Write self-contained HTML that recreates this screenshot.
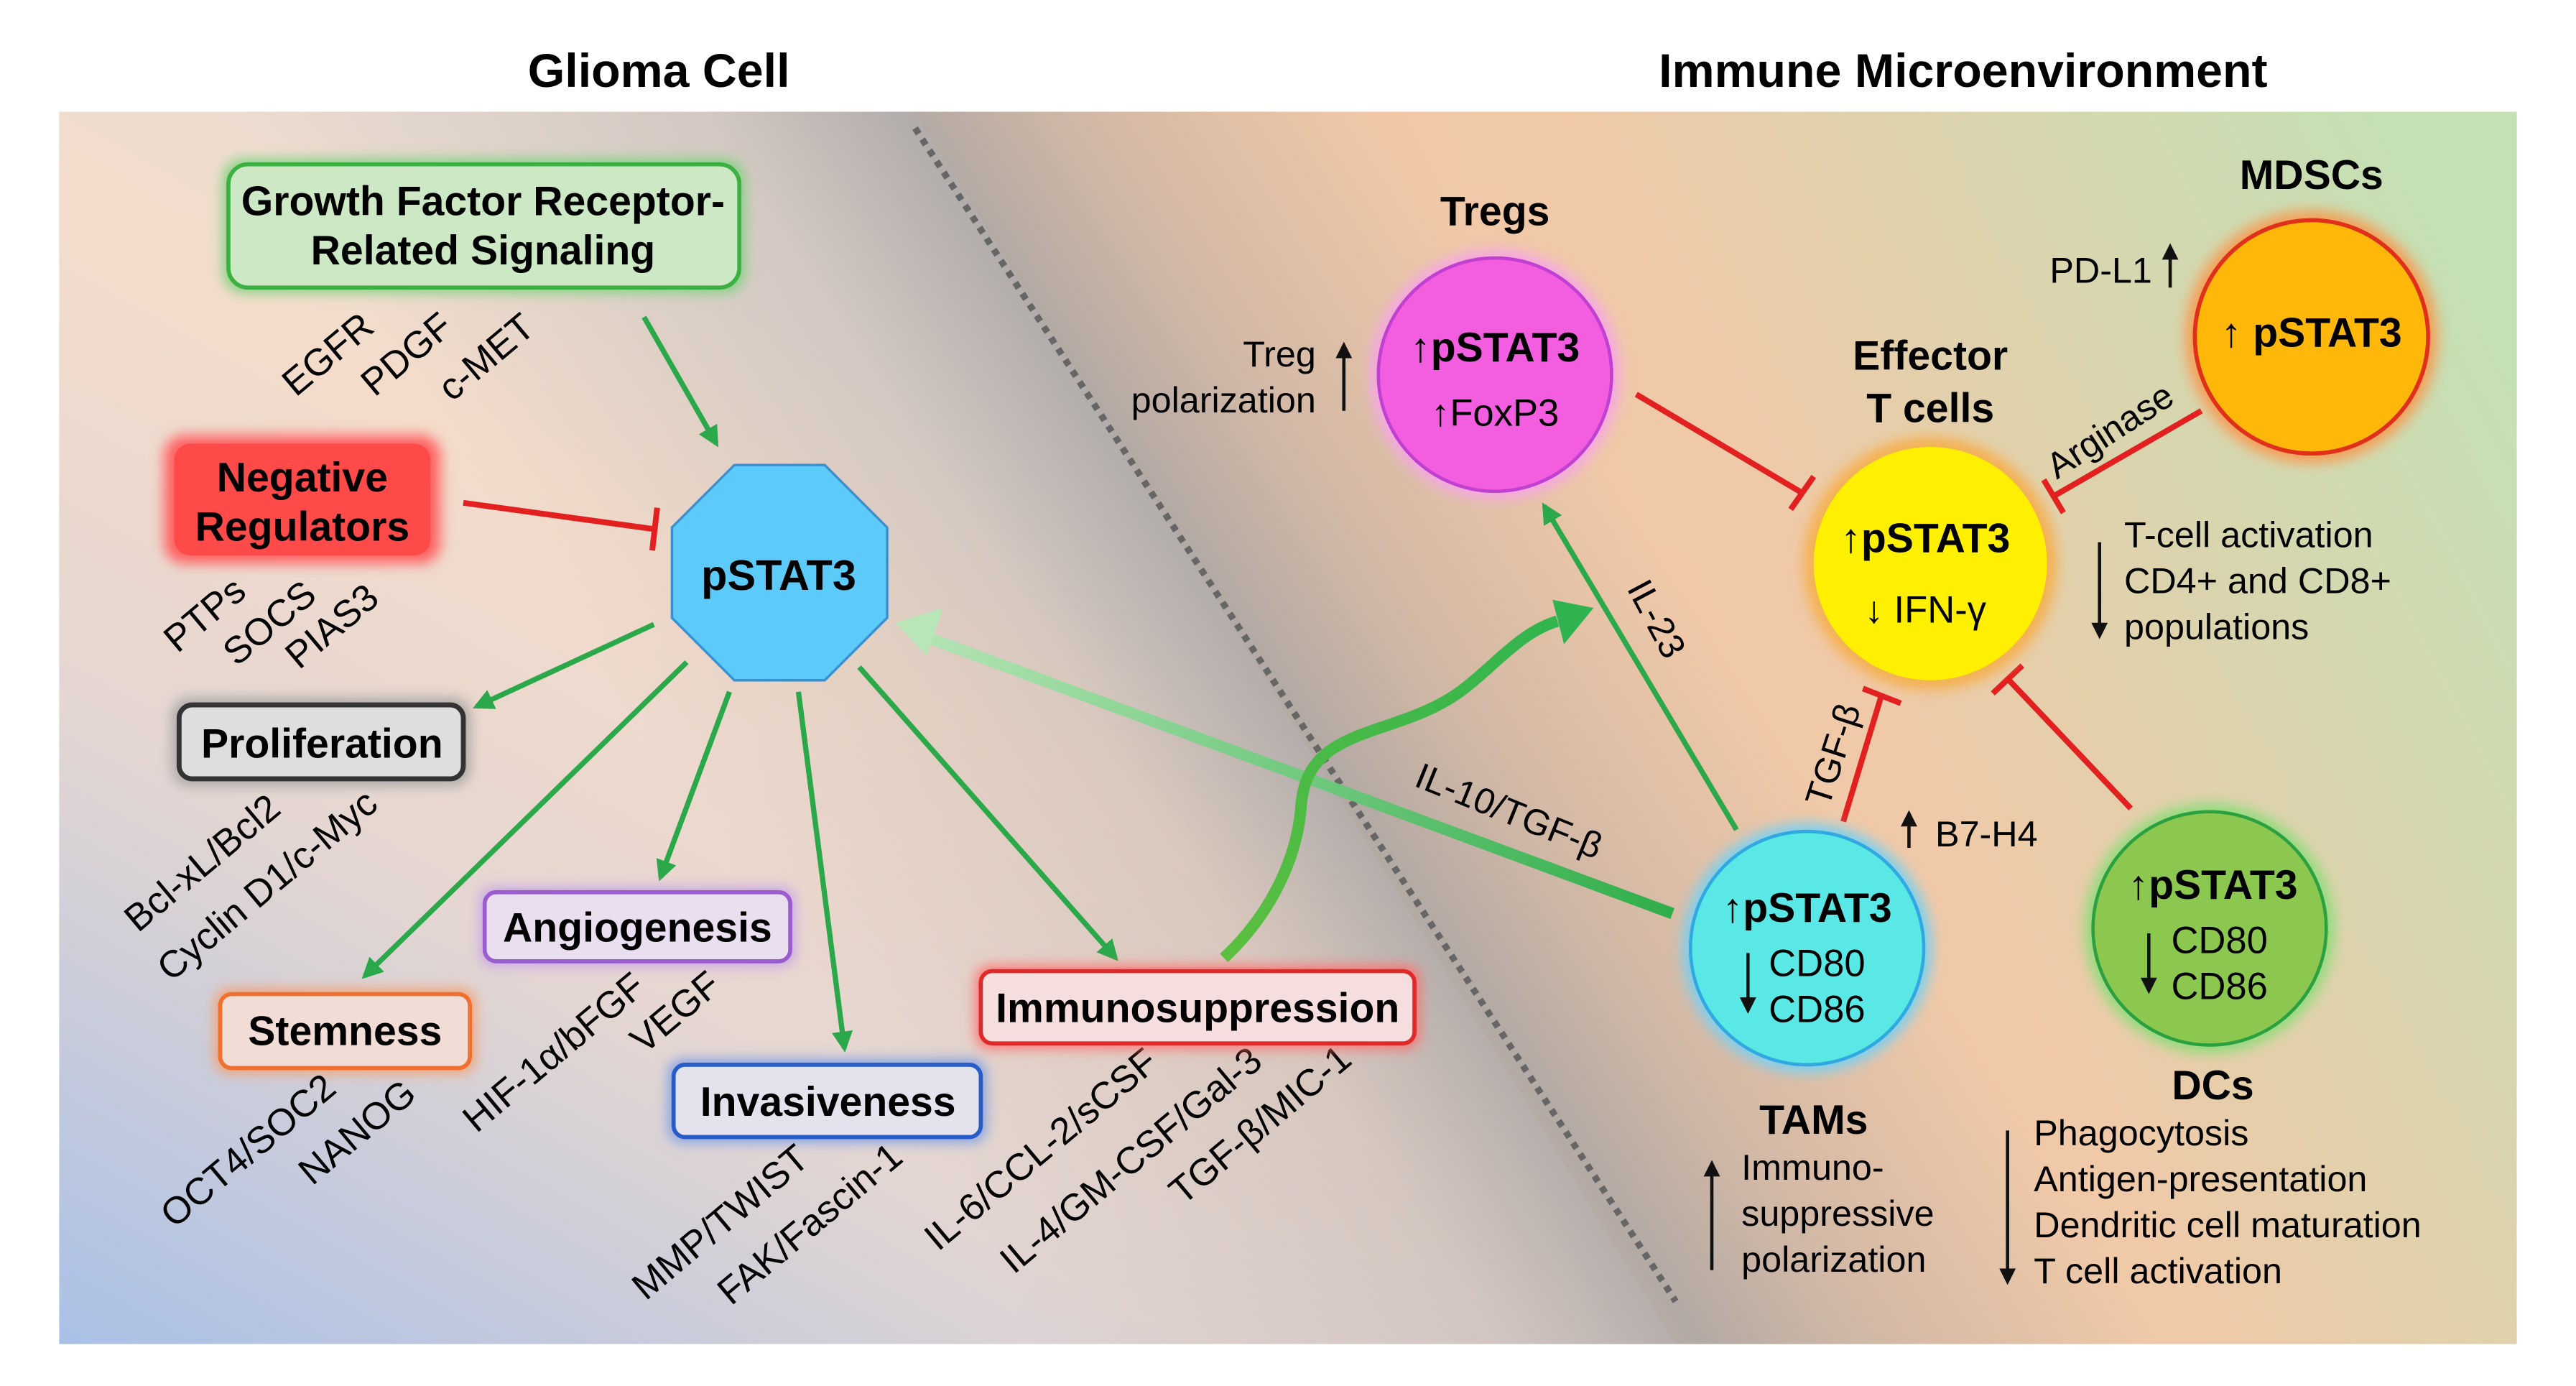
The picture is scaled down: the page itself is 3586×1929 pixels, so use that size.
<!DOCTYPE html>
<html><head><meta charset="utf-8"><style>
html,body{margin:0;padding:0;background:#fff;}
svg{display:block;font-family:"Liberation Sans",Arial,sans-serif;}
</style></head><body>
<svg width="3586" height="1929" viewBox="0 0 1568 843.5" xmlns="http://www.w3.org/2000/svg">
<defs>
<linearGradient id="bgL" x1="0" y1="1" x2="0.55" y2="0.25">
<stop offset="0" stop-color="#a9c0e6"/><stop offset="0.45" stop-color="#e4d6d2"/><stop offset="0.8" stop-color="#f4dccb"/><stop offset="1" stop-color="#eadcd2"/>
</linearGradient>
<linearGradient id="bgR" x1="0" y1="0.6" x2="1" y2="0.2">
<stop offset="0" stop-color="#f2c6a6"/><stop offset="0.55" stop-color="#f0c9a8"/><stop offset="1" stop-color="#c4e0b4"/>
</linearGradient>
<linearGradient id="band" x1="500" y1="620" x2="1076" y2="250" gradientUnits="userSpaceOnUse">
<stop offset="0" stop-color="#a8a4a4" stop-opacity="0"/>
<stop offset="0.35" stop-color="#a8a4a4" stop-opacity="0.35"/>
<stop offset="0.5" stop-color="#a8a4a4" stop-opacity="0.85"/>
<stop offset="0.62" stop-color="#a8a4a4" stop-opacity="0.45"/>
<stop offset="0.85" stop-color="#a8a4a4" stop-opacity="0"/>
</linearGradient>
<linearGradient id="bigArrow" x1="1020" y1="555" x2="545" y2="380" gradientUnits="userSpaceOnUse">
<stop offset="0" stop-color="#2fae4a"/><stop offset="1" stop-color="#b8e6b8"/>
</linearGradient>
<linearGradient id="curvy" x1="745" y1="583" x2="970" y2="370" gradientUnits="userSpaceOnUse">
<stop offset="0" stop-color="#5cbf40"/><stop offset="1" stop-color="#2eb34f"/>
</linearGradient>
<filter id="glow" x="-30%" y="-30%" width="160%" height="160%"><feGaussianBlur stdDeviation="4"/></filter>
<marker id="ga" viewBox="0 0 10 10" refX="8" refY="5" markerWidth="4" markerHeight="4" orient="auto"><path d="M0,0 L10,5 L0,10 z" fill="#2aa84a"/></marker>
</defs>
<rect width="1568" height="843.5" fill="#fff"/>
<polygon points="36,68 557,68 1020,818 36,818" fill="url(#bgL)"/>
<polygon points="557,68 1532,68 1532,818 1020,818" fill="url(#bgR)"/>
<rect x="36" y="68" width="1496" height="750" fill="url(#band)"/>
<line x1="557" y1="78" x2="1020" y2="792" stroke="#666" stroke-width="4" stroke-dasharray="4,4"/>

<text x="401" y="53" font-size="29" font-weight="bold" text-anchor="middle">Glioma Cell</text>
<text x="1195" y="53" font-size="29" font-weight="bold" text-anchor="middle">Immune Microenvironment</text>

<rect x="136" y="97" width="317" height="81" rx="12" fill="#7ed37e" filter="url(#glow)"/>
<rect x="139" y="100" width="311" height="75" rx="12" fill="#cce8c4" stroke="#3cb043" stroke-width="2.5"/>
<text x="294" y="131" font-size="25" font-weight="bold" text-anchor="middle">Growth Factor Receptor-</text>
<text x="294" y="161" font-size="25" font-weight="bold" text-anchor="middle">Related Signaling</text>
<g font-size="23">
<text transform="translate(180,242) rotate(-40)">EGFR</text>
<text transform="translate(228,242) rotate(-40)">PDGF</text>
<text transform="translate(275,245) rotate(-40)">c-MET</text>
</g>

<rect x="100" y="265" width="168" height="78" rx="12" fill="#ff6060" filter="url(#glow)"/>
<rect x="106" y="270" width="156" height="68" rx="10" fill="#ff4a4a"/>
<text x="184" y="299" font-size="25" font-weight="bold" text-anchor="middle">Negative</text>
<text x="184" y="329" font-size="25" font-weight="bold" text-anchor="middle">Regulators</text>
<g font-size="23">
<text transform="translate(108,398) rotate(-40)">PTPs</text>
<text transform="translate(144,406) rotate(-40)">SOCS</text>
<text transform="translate(182,408) rotate(-40)">PIAS3</text>
</g>
<line x1="282" y1="306" x2="398" y2="322" stroke="#e32020" stroke-width="3.5"/>
<line x1="400" y1="309" x2="397" y2="335" stroke="#e32020" stroke-width="3.5"/>

<polygon points="447,283 502,283 540,321 540,376 502,414 447,414 409,376 409,321" fill="#5ccbfa" stroke="#3a8fd0" stroke-width="1.5"/>
<text x="474" y="359" font-size="26" font-weight="bold" text-anchor="middle">pSTAT3</text>

<g stroke="#2aa84a" stroke-width="3.2" fill="none" marker-end="url(#ga)">
<line x1="392" y1="193" x2="436" y2="270"/>
<line x1="398" y1="380" x2="290" y2="430"/>
<line x1="418" y1="403" x2="222" y2="594"/>
<line x1="444" y1="421" x2="402" y2="534"/>
<line x1="486" y1="421" x2="514" y2="638"/>
<line x1="523" y1="406" x2="679" y2="583"/>
<line x1="1057" y1="505" x2="940" y2="308"/>
</g>

<rect x="105" y="425" width="181" height="53" rx="10" fill="#999" filter="url(#glow)" opacity="0.8"/>
<rect x="109" y="429" width="173" height="45" rx="8" fill="#dedede" stroke="#333" stroke-width="3"/>
<text x="196" y="461" font-size="25" font-weight="bold" text-anchor="middle">Proliferation</text>
<g font-size="23">
<text transform="translate(84,568) rotate(-40)">Bcl-xL/Bcl2</text>
<text transform="translate(104,598) rotate(-40)">Cyclin D1/c-Myc</text>
</g>

<rect x="292" y="540" width="192" height="48" rx="8" fill="#c9a6e6" filter="url(#glow)"/>
<rect x="295" y="543" width="186" height="42" rx="7" fill="#eadff0" stroke="#9a5ccf" stroke-width="2.5"/>
<text x="388" y="573" font-size="25" font-weight="bold" text-anchor="middle">Angiogenesis</text>

<rect x="131" y="602" width="158" height="51" rx="8" fill="#f4a070" filter="url(#glow)"/>
<rect x="134" y="605" width="152" height="45" rx="7" fill="#f1dcd6" stroke="#f07030" stroke-width="2.5"/>
<text x="210" y="636" font-size="25" font-weight="bold" text-anchor="middle">Stemness</text>
<g font-size="23">
<text transform="translate(106,748) rotate(-40)">OCT4/SOC2</text>
<text transform="translate(190,722) rotate(-40)">NANOG</text>
<text transform="translate(290,690) rotate(-40)">HIF-1α/bFGF</text>
<text transform="translate(392,642) rotate(-40)">VEGF</text>
</g>

<rect x="407" y="645" width="193" height="50" rx="8" fill="#7a9ee6" filter="url(#glow)"/>
<rect x="410" y="648" width="187" height="44" rx="7" fill="#e4e2ec" stroke="#2a5cc8" stroke-width="2.5"/>
<text x="504" y="679" font-size="25" font-weight="bold" text-anchor="middle">Invasiveness</text>
<g font-size="23">
<text transform="translate(393,792) rotate(-40)">MMP/TWIST</text>
<text transform="translate(445,795) rotate(-40)">FAK/Fascin-1</text>
<text transform="translate(571,762) rotate(-40)">IL-6/CCL-2/sCSF</text>
<text transform="translate(617,776) rotate(-40)">IL-4/GM-CSF/Gal-3</text>
<text transform="translate(720,734) rotate(-40)">TGF-β/MIC-1</text>
</g>

<rect x="594" y="588" width="270" height="50" rx="8" fill="#ff7070" filter="url(#glow)"/>
<rect x="597" y="591" width="264" height="44" rx="7" fill="#f6dede" stroke="#e02a2a" stroke-width="2.5"/>
<text x="729" y="622" font-size="25" font-weight="bold" text-anchor="middle">Immunosuppression</text>

<line x1="1018" y1="556" x2="562" y2="387" stroke="url(#bigArrow)" stroke-width="7"/>
<polygon points="545,379 574,370 564,399" fill="#b8e6b8"/>
<path d="M745,583 C775,555 790,520 792,490 C796,440 850,450 890,420 C910,405 925,385 948,378" stroke="url(#curvy)" stroke-width="7" fill="none"/>
<polygon points="970,370 945,365 952,392" fill="#2eb34f"/>
<text transform="translate(860,478) rotate(22)" font-size="22">IL-10/TGF-β</text>
<text transform="translate(990,358) rotate(62)" font-size="22">IL-23</text>

<g stroke="#e32020" stroke-width="3.5">
<line x1="996" y1="240" x2="1097" y2="300"/><line x1="1090" y1="310" x2="1104" y2="290"/>
<line x1="1340" y1="250" x2="1250" y2="302"/><line x1="1244" y1="292" x2="1256" y2="312"/>
<line x1="1122" y1="500" x2="1145" y2="424"/><line x1="1134" y1="419" x2="1157" y2="428"/>
<line x1="1297" y1="492" x2="1222" y2="413"/><line x1="1213" y1="422" x2="1231" y2="405"/>
</g>
<text transform="translate(1252,292) rotate(-33)" font-size="22">Arginase</text>
<text transform="translate(1113,492) rotate(-72)" font-size="22">TGF-β</text>

<text x="910" y="137" font-size="25" font-weight="bold" text-anchor="middle">Tregs</text>
<circle cx="910" cy="228" r="76" fill="#f6a6e6" filter="url(#glow)"/>
<circle cx="910" cy="228" r="71" fill="#f35ddf" stroke="#c040d0" stroke-width="2"/>
<text x="910" y="220" font-size="25" font-weight="bold" text-anchor="middle">↑pSTAT3</text>
<text x="910" y="259" font-size="23" text-anchor="middle">↑FoxP3</text>
<text x="801" y="223" font-size="22" text-anchor="end">Treg</text>
<text x="801" y="251" font-size="22" text-anchor="end">polarization</text>
<line x1="818" y1="250" x2="818" y2="215" stroke="#111" stroke-width="2"/>
<polygon points="818,208 813,218 823,218" fill="#111"/>

<text x="1407" y="115" font-size="25" font-weight="bold" text-anchor="middle">MDSCs</text>
<circle cx="1407" cy="205" r="77" fill="#ff9040" filter="url(#glow)" opacity="0.8"/>
<circle cx="1407" cy="205" r="71" fill="#ffb70a" stroke="#e0301a" stroke-width="2.5"/>
<text x="1407" y="211" font-size="25" font-weight="bold" text-anchor="middle">↑ pSTAT3</text>
<text x="1310" y="172" font-size="22" text-anchor="end">PD-L1</text>
<line x1="1321" y1="175" x2="1321" y2="155" stroke="#111" stroke-width="2"/>
<polygon points="1321,148 1316,158 1326,158" fill="#111"/>

<text x="1175" y="225" font-size="25" font-weight="bold" text-anchor="middle">Effector</text>
<text x="1175" y="257" font-size="25" font-weight="bold" text-anchor="middle">T cells</text>
<circle cx="1175" cy="343" r="77" fill="#f5b050" filter="url(#glow)"/>
<circle cx="1175" cy="343" r="71" fill="#ffef00"/>
<text x="1172" y="336" font-size="25" font-weight="bold" text-anchor="middle">↑pSTAT3</text>
<text x="1172" y="379" font-size="23" text-anchor="middle">↓ IFN-γ</text>
<line x1="1278" y1="330" x2="1278" y2="382" stroke="#111" stroke-width="2"/>
<polygon points="1278,389 1273,379 1283,379" fill="#111"/>
<text x="1293" y="333" font-size="22">T-cell activation</text>
<text x="1293" y="361" font-size="22">CD4+ and CD8+</text>
<text x="1293" y="389" font-size="22">populations</text>

<circle cx="1100" cy="577" r="76" fill="#7ad0f0" filter="url(#glow)"/>
<circle cx="1100" cy="577" r="71" fill="#5ae8e6" stroke="#30a8e0" stroke-width="2"/>
<text x="1100" y="561" font-size="25" font-weight="bold" text-anchor="middle">↑pSTAT3</text>
<text x="1106" y="594" font-size="23" text-anchor="middle">CD80</text>
<text x="1106" y="622" font-size="23" text-anchor="middle">CD86</text>
<line x1="1064" y1="580" x2="1064" y2="610" stroke="#111" stroke-width="2"/>
<polygon points="1064,617 1059,607 1069,607" fill="#111"/>
<line x1="1162" y1="516" x2="1162" y2="500" stroke="#111" stroke-width="2"/>
<polygon points="1162,493 1157,503 1167,503" fill="#111"/>
<text x="1178" y="515" font-size="22">B7-H4</text>
<text x="1104" y="690" font-size="25" font-weight="bold" text-anchor="middle">TAMs</text>
<line x1="1042" y1="773" x2="1042" y2="713" stroke="#111" stroke-width="2"/>
<polygon points="1042,706 1037,716 1047,716" fill="#111"/>
<text x="1060" y="718" font-size="22">Immuno-</text>
<text x="1060" y="746" font-size="22">suppressive</text>
<text x="1060" y="774" font-size="22">polarization</text>

<circle cx="1345" cy="565" r="76" fill="#8fdc7a" filter="url(#glow)"/>
<circle cx="1345" cy="565" r="71" fill="#8cc850" stroke="#2aa040" stroke-width="2"/>
<text x="1347" y="547" font-size="25" font-weight="bold" text-anchor="middle">↑pSTAT3</text>
<text x="1351" y="580" font-size="23" text-anchor="middle">CD80</text>
<text x="1351" y="608" font-size="23" text-anchor="middle">CD86</text>
<line x1="1308" y1="568" x2="1308" y2="598" stroke="#111" stroke-width="2"/>
<polygon points="1308,605 1303,595 1313,595" fill="#111"/>
<text x="1347" y="669" font-size="25" font-weight="bold" text-anchor="middle">DCs</text>
<line x1="1222" y1="688" x2="1222" y2="775" stroke="#111" stroke-width="2"/>
<polygon points="1222,782 1217,772 1227,772" fill="#111"/>
<text x="1238" y="697" font-size="22">Phagocytosis</text>
<text x="1238" y="725" font-size="22">Antigen-presentation</text>
<text x="1238" y="753" font-size="22">Dendritic cell maturation</text>
<text x="1238" y="781" font-size="22">T cell activation</text>
</svg>
</body></html>
